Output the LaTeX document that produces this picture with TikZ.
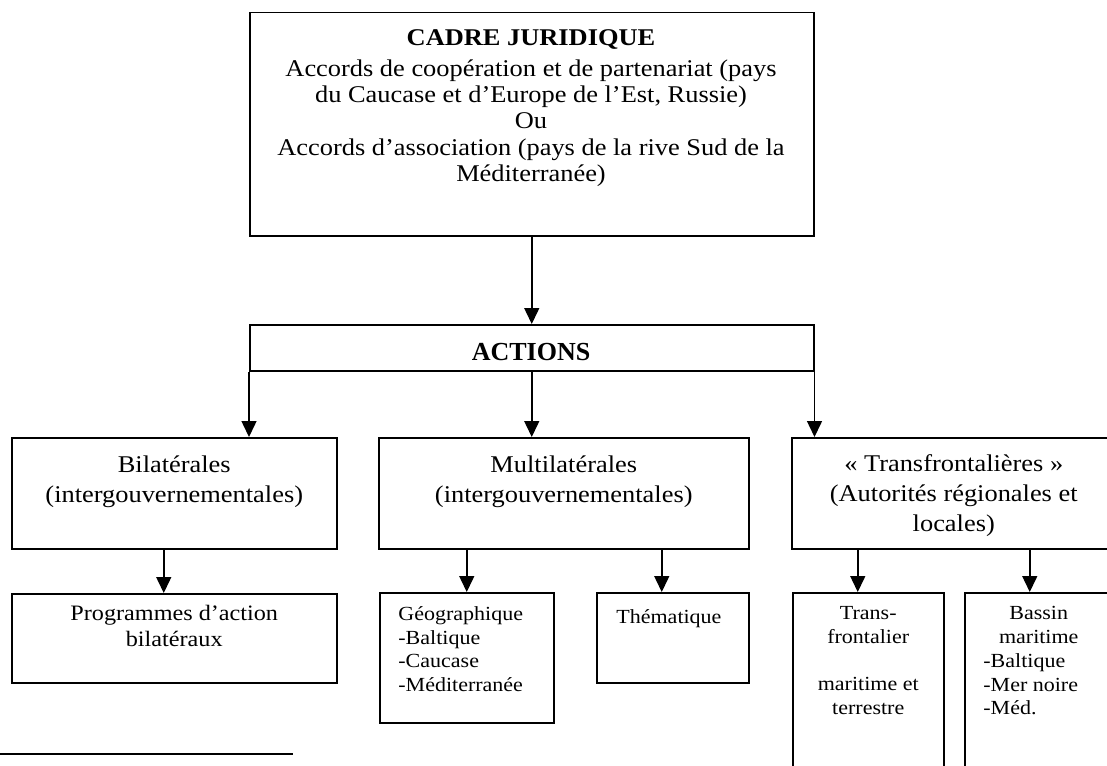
\documentclass[tikz,border=0pt]{standalone}
\usepackage{fontspec}
\setmainfont{Liberation Serif}[FakeStretch=1.1]
\newfontfamily\timesf{Liberation Serif}
\usetikzlibrary{arrows.meta}
\tikzset{
  box/.style={draw, line width=0.75pt, rectangle, inner sep=0pt, anchor=north west},
  arr/.style={line width=0.75pt, -{Triangle[width=7.5pt,length=8pt]}},
  lbl/.style={inner sep=0pt, execute at begin node=\strut},
  fbig/.style={font=\fontsize{12}{15}\selectfont},
  fmid/.style={font=\fontsize{11}{13}\selectfont},
  fsmall/.style={font=\fontsize{10}{11.8}\selectfont},
  ftop/.style={font=\fontsize{12}{13.1}\selectfont},
}
\begin{document}
\begin{tikzpicture}[x=0.5pt,y=-0.5pt]
\useasboundingbox (0,0) rectangle (1107,765);
\fill[white] (0,0) rectangle (1107,765);
% boxes
\node[box, minimum width=282pt, minimum height=111.5pt] (top) at (249,12) {};
\node[box, minimum width=282pt, minimum height=23pt] (actions) at (249,324) {};
\node[box, minimum width=162.5pt, minimum height=55.5pt] (bil) at (11,437) {};
\node[box, minimum width=162.5pt, minimum height=44.5pt] (prog) at (11,593) {};
\node[box, minimum width=185pt, minimum height=55.5pt] (multi) at (378,437) {};
\node[box, minimum width=87pt, minimum height=65pt] (geo) at (379,592) {};
\node[box, minimum width=76pt, minimum height=45pt] (them) at (596,592) {};
\node[box, minimum width=162pt, minimum height=55.5pt] (trans) at (791,437) {};
\node[box, minimum width=75.5pt, minimum height=104pt] (tf) at (792,592) {};
\node[box, minimum width=74pt, minimum height=104pt] (bassin) at (964,592) {};
% labels
\node[lbl, ftop, anchor=north, align=center] (toplbl) at (531,29)
  {\textbf{CADRE JURIDIQUE}\\[2.5pt]
   Accords de coopération et de partenariat (pays\\
   du Caucase et d’Europe de l’Est, Russie)\\
   Ou\\
   Accords d’association (pays de la rive Sud de la\\
   Méditerranée)};
\node[inner sep=0pt, anchor=base, font=\timesf\fontsize{13}{15}\selectfont\bfseries] (actlbl) at (531,360) {ACTIONS};
\node[lbl, fbig, anchor=north, align=center] (billbl) at ([yshift=-9pt]bil.north)
  {Bilatérales\\(intergouvernementales)};
\node[lbl, fbig, anchor=north, align=center] (multilbl) at ([yshift=-9pt]multi.north)
  {Multilatérales\\(intergouvernementales)};
\node[lbl, fbig, anchor=north, align=center] (translbl) at ([yshift=-8.5pt]trans.north)
  {« Transfrontalières »\\(Autorités régionales et\\locales)};
\node[lbl, fmid, anchor=north, align=center] (proglbl) at ([yshift=-5.75pt]prog.north)
  {Programmes d’action\\bilatéraux};
\node[lbl, fsmall, anchor=north west, align=left] (geolbl) at ([xshift=9.5pt,yshift=-7.1pt]geo.north west)
  {Géographique\\-Baltique\\-Caucase\\-Méditerranée};
\node[lbl, fsmall, anchor=north west, align=left] (themlbl) at ([xshift=10pt,yshift=-7.1pt]them.north west)
  {Thématique};
\node[lbl, fsmall, anchor=north, align=center] (tflbl) at ([yshift=-7.1pt]tf.north)
  {Trans-\\frontalier\\~\\maritime et\\terrestre};
\node[lbl, fsmall, anchor=north, align=center] (basslbl) at ([yshift=-7.1pt]bassin.north)
  {Bassin\\maritime};
\node[lbl, fsmall, anchor=north west, align=left] (basslist) at ([xshift=9.5pt,yshift=-30.7pt]bassin.north west)
  {-Baltique\\-Mer noire\\-Méd.};
% connectors
\draw[arr] (top.south) -- (actions.north);
\draw[arr] (actions.south west) -- (actions.south west |- bil.north);
\draw[arr] (actions.south) -- (actions.south |- multi.north);
\draw[arr] (actions.south east) -- (actions.south east |- trans.north);
\draw[arr] ([xshift=-5.25pt]bil.south) -- ([xshift=-5.25pt]prog.north);
\draw[arr] (geo.north |- multi.south) -- (geo.north);
\draw[arr] ([xshift=-5.5pt]them.north |- multi.south) -- ([xshift=-5.5pt]them.north);
\draw[arr] ([xshift=-5.25pt]tf.north |- trans.south) -- ([xshift=-5.25pt]tf.north);
\draw[arr] ([xshift=-4.5pt]bassin.north |- trans.south) -- ([xshift=-4.5pt]bassin.north);
% footnote rule
\draw[line width=0.75pt] (0,754) -- (293,754);
\end{tikzpicture}
\end{document}
